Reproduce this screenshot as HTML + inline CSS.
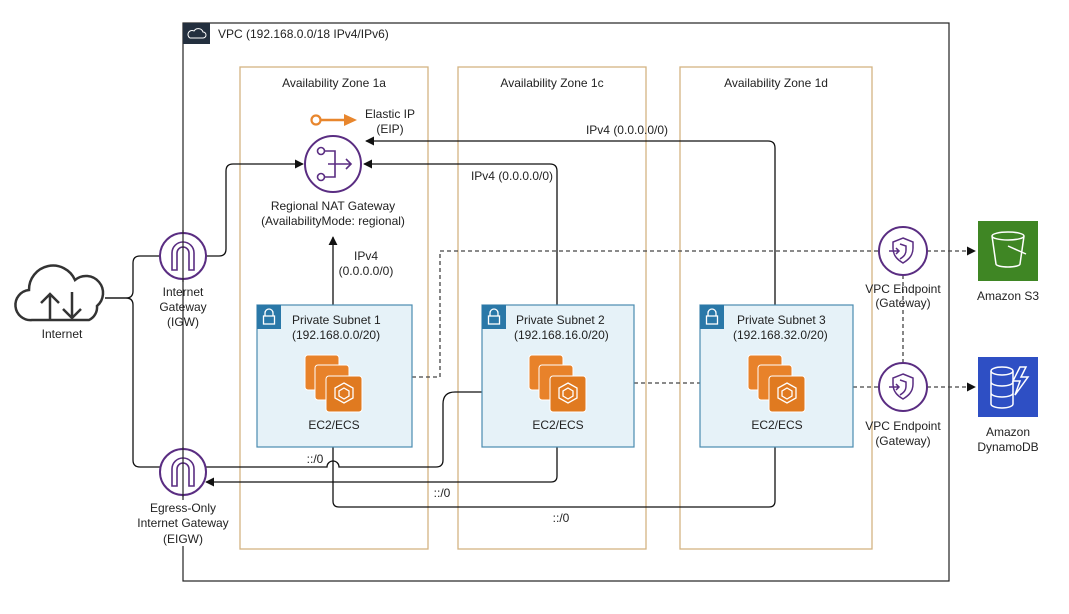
<!DOCTYPE html>
<html><head><meta charset="utf-8"><style>
html,body{margin:0;padding:0;background:#fff;}
svg{display:block;font-family:"Liberation Sans",sans-serif;}
text{font-size:12px;fill:#222;}
</style></head><body>
<svg width="1069" height="614" viewBox="0 0 1069 614" xmlns="http://www.w3.org/2000/svg">
<defs>
<marker id="ar" viewBox="0 0 10 10" refX="9" refY="5" markerWidth="9" markerHeight="9" markerUnits="userSpaceOnUse" orient="auto"><path d="M0,0 L10,5 L0,10 Z" fill="#111"/></marker>
<g id="ec2">
<rect x="0" y="0" width="34" height="35" rx="3" fill="#e8822a" stroke="#fff" stroke-width="1"/>
<rect x="10" y="10" width="34" height="35" rx="3" fill="#e8822a" stroke="#fff" stroke-width="1"/>
<rect x="21" y="21" width="36" height="36" rx="3" fill="#e07a20" stroke="#fff" stroke-width="1"/>
<path d="M39,28 l9,5 v10 l-9,5 l-9,-5 v-10 z M39,33 l5,3 v5 l-5,3 l-5,-3 v-5 z" fill="none" stroke="#fff" stroke-width="1.3"/>
</g>
<g id="lock"><rect x="0" y="0" width="24" height="24" fill="#2a78a8"/><path d="M8,11 v-3 a4,4 0 0 1 8,0 v3" fill="none" stroke="#fff" stroke-width="1.3"/><rect x="6.5" y="11" width="11" height="8" fill="none" stroke="#fff" stroke-width="1.3"/></g>
<g id="gw"><circle r="23" fill="#fff" stroke="#5a2d82" stroke-width="2"/><path d="M-11,14 V-3 a11,11 0 0 1 22,0 V14 H6 V-3 a6,6 0 0 0 -12,0 V14 Z" fill="none" stroke="#5a2d82" stroke-width="1.6"/></g>
<g id="ep"><circle r="24" fill="#fff" stroke="#5a2d82" stroke-width="2"/><path d="M0,-13 l10,4 v6 c0,8 -5,12 -10,15 c-5,-3 -10,-7 -10,-15 v-6 z M-3,-7 l6,2 v4 c0,5 -3,7 -6,9" fill="none" stroke="#5a2d82" stroke-width="1.5"/><path d="M-14,0 h10 M-7,-3 l3,3 l-3,3" fill="none" stroke="#5a2d82" stroke-width="1.5"/></g>
</defs>

<rect x="183" y="23" width="766" height="558" fill="none" stroke="#222" stroke-width="1.2"/>
<rect x="183" y="23" width="27" height="21" fill="#232f3e"/>
<path d="M190,38 h13 a3,3 0 0 0 0,-6 a5,5 0 0 0 -9,-1 a3,3 0 0 0 -4,7 z" fill="none" stroke="#fff" stroke-width="1"/>
<text x="218" y="38">VPC (192.168.0.0/18 IPv4/IPv6)</text>

<rect x="240" y="67" width="188" height="482" fill="none" stroke="#d4b483" stroke-width="1.3"/>
<rect x="458" y="67" width="188" height="482" fill="none" stroke="#d4b483" stroke-width="1.3"/>
<rect x="680" y="67" width="192" height="482" fill="none" stroke="#d4b483" stroke-width="1.3"/>
<text x="334" y="87" text-anchor="middle">Availability Zone 1a</text>
<text x="552" y="87" text-anchor="middle">Availability Zone 1c</text>
<text x="776" y="87" text-anchor="middle">Availability Zone 1d</text>

<g fill="none" stroke="#111" stroke-width="1.3">
<path d="M105,298 H126 q7,0 7,-7 V263 q0,-7 7,-7 H160"/>
<path d="M105,298 H126 q7,0 7,7 V460 q0,7 7,7 H163"/>
<path d="M206,256 H219 q7,0 7,-7 V171 q0,-7 7,-7 H303" marker-end="url(#ar)"/>
<path d="M333,305 V237" marker-end="url(#ar)"/>
<path d="M557,305 V171 q0,-7 -7,-7 H364" marker-end="url(#ar)"/>
<path d="M775,305 V148 q0,-7 -7,-7 H366" marker-end="url(#ar)"/>
<path d="M482,392 H455 q-12,0 -12,12 V460 q0,7 -7,7 H339 a6,6 0 0 0 -12,0 H205"/>
<path d="M557,447 V476 q0,6 -6,6 H206" marker-end="url(#ar)"/>
<path d="M333,447 V501 q0,6 6,6 H769 q6,0 6,-6 V447"/>
</g>
<g fill="none" stroke="#444" stroke-width="1.3" stroke-dasharray="4,3">
<path d="M412,377 H440 V251 H879"/>
<path d="M927,251 H975" marker-end="url(#ar)"/>
<path d="M634,383 H700"/>
<path d="M853,387 H879"/>
<path d="M927,387 H975" marker-end="url(#ar)"/>
<path d="M903,275 V363"/>
</g>

<path d="M32,320 a15,15 0 0 1 -3,-30 a24,24 0 0 1 46,-10 a17,17 0 0 1 22,26 a14,14 0 0 1 -8,14 z" fill="#fff" stroke="#333" stroke-width="2.5"/>
<path d="M50,320 V294 M41,303 l9,-9 l9,9 M72,292 V318 M63,309 l9,9 l9,-9" fill="none" stroke="#333" stroke-width="2.5"/>
<text x="62" y="338" text-anchor="middle">Internet</text>

<use href="#gw" x="183" y="256"/>
<line x1="183" y1="230" x2="183" y2="282" stroke="#222" stroke-width="1.2"/>
<text x="183" y="296" text-anchor="middle">Internet</text>
<text x="183" y="311" text-anchor="middle">Gateway</text>
<text x="183" y="326" text-anchor="middle">(IGW)</text>
<use href="#gw" x="183" y="472"/>
<line x1="183" y1="447" x2="183" y2="497" stroke="#222" stroke-width="1.2"/>
<rect x="140" y="500" width="86" height="46" fill="#fff"/>
<text x="183" y="512" text-anchor="middle">Egress-Only</text>
<text x="183" y="527" text-anchor="middle">Internet Gateway</text>
<text x="183" y="543" text-anchor="middle">(EIGW)</text>

<circle cx="333" cy="164" r="28" fill="#fff" stroke="#5a2d82" stroke-width="2"/>
<g fill="none" stroke="#5a2d82" stroke-width="1.6">
<circle cx="321" cy="151" r="3.5"/><circle cx="321" cy="177" r="3.5"/>
<path d="M325,151 H335 V177 H325 M328,164 H351 M346,159 l5,5 l-5,5"/>
</g>
<text x="333" y="210" text-anchor="middle">Regional NAT Gateway</text>
<text x="333" y="225" text-anchor="middle">(AvailabilityMode: regional)</text>
<circle cx="316" cy="120" r="4.5" fill="#fff" stroke="#e8862d" stroke-width="2.2"/>
<path d="M321,120 H346" stroke="#e8862d" stroke-width="2.4"/>
<path d="M344,114 L357,120 L344,126 Z" fill="#e8862d"/>
<text x="390" y="118" text-anchor="middle">Elastic IP</text>
<text x="390" y="133" text-anchor="middle">(EIP)</text>

<text x="366" y="260" text-anchor="middle">IPv4</text>
<text x="366" y="275" text-anchor="middle">(0.0.0.0/0)</text>
<text x="512" y="180" text-anchor="middle">IPv4 (0.0.0.0/0)</text>
<text x="627" y="134" text-anchor="middle">IPv4 (0.0.0.0/0)</text>
<text x="315" y="463" text-anchor="middle">::/0</text>
<text x="442" y="497" text-anchor="middle">::/0</text>
<text x="561" y="522" text-anchor="middle">::/0</text>

<g>
<rect x="257" y="305" width="155" height="142" fill="#e6f2f8" stroke="#4a8bb0" stroke-width="1.2"/>
<use href="#lock" x="257" y="305"/>
<text x="292" y="324">Private Subnet 1</text>
<text x="292" y="339">(192.168.0.0/20)</text>
<use href="#ec2" x="305" y="355"/>
<text x="334" y="429" text-anchor="middle">EC2/ECS</text>
</g>
<g>
<rect x="482" y="305" width="152" height="142" fill="#e6f2f8" stroke="#4a8bb0" stroke-width="1.2"/>
<use href="#lock" x="482" y="305"/>
<text x="516" y="324">Private Subnet 2</text>
<text x="514" y="339">(192.168.16.0/20)</text>
<use href="#ec2" x="529" y="355"/>
<text x="558" y="429" text-anchor="middle">EC2/ECS</text>
</g>
<g>
<rect x="700" y="305" width="153" height="142" fill="#e6f2f8" stroke="#4a8bb0" stroke-width="1.2"/>
<use href="#lock" x="700" y="305"/>
<text x="737" y="324">Private Subnet 3</text>
<text x="733" y="339">(192.168.32.0/20)</text>
<use href="#ec2" x="748" y="355"/>
<text x="777" y="429" text-anchor="middle">EC2/ECS</text>
</g>

<use href="#ep" x="903" y="251"/>
<text x="903" y="293" text-anchor="middle">VPC Endpoint</text>
<text x="903" y="307" text-anchor="middle">(Gateway)</text>
<use href="#ep" x="903" y="387"/>
<text x="903" y="430" text-anchor="middle">VPC Endpoint</text>
<text x="903" y="445" text-anchor="middle">(Gateway)</text>

<rect x="978" y="221" width="60" height="60" fill="#3f8624"/>
<path d="M992,236 a16,4 0 0 0 32,0 a16,4 0 0 0 -32,0 l4,28 a12,3 0 0 0 24,0 l4,-28" fill="none" stroke="#fff" stroke-width="1.5"/>
<path d="M1008,246 l18,8" stroke="#fff" stroke-width="1.5"/>
<text x="1008" y="300" text-anchor="middle">Amazon S3</text>
<rect x="978" y="357" width="60" height="60" fill="#2e4fc4"/>
<g fill="none" stroke="#fff" stroke-width="1.5">
<ellipse cx="1002" cy="371" rx="11" ry="4"/>
<path d="M991,371 V404 a11,4 0 0 0 22,0 V371 M991,382 a11,4 0 0 0 22,0 M991,393 a11,4 0 0 0 22,0"/>
<path d="M1020,367 l-7,14 h7 l-5,14 l13,-18 h-7 l5,-10 z"/>
</g>
<text x="1008" y="436" text-anchor="middle">Amazon</text>
<text x="1008" y="451" text-anchor="middle">DynamoDB</text>
</svg>
</body></html>
